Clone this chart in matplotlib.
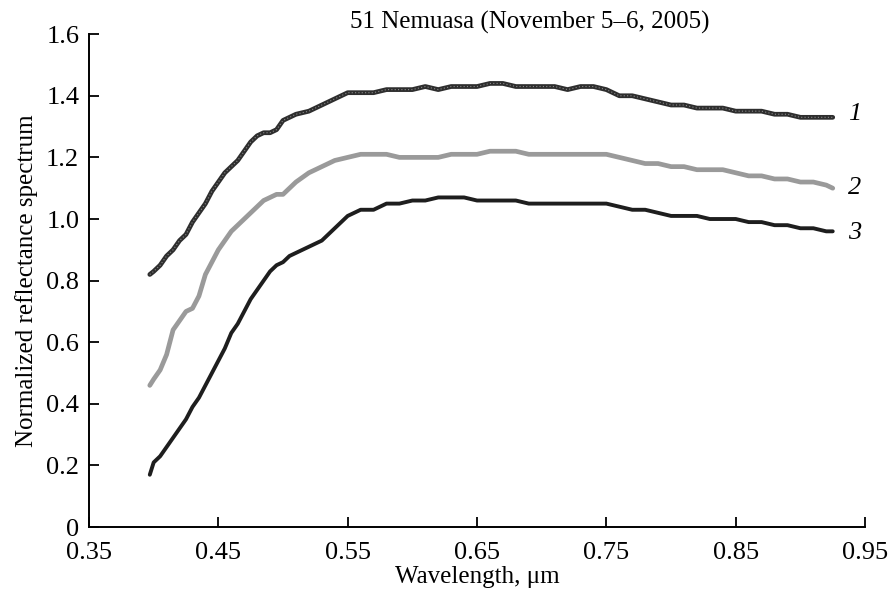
"""
Normalized reflectance spectra of 51 Nemausa, November 5-6, 2005.
"""

import matplotlib
matplotlib.use("Agg")
import matplotlib.pyplot as plt

# Wavelength grid (um) and the three spectra
wl = [0.397, 0.40, 0.405, 0.41, 0.415, 0.42, 0.425, 0.43, 0.435, 0.44, 0.445,
      0.45, 0.455, 0.46, 0.465, 0.47, 0.475, 0.48, 0.485, 0.49, 0.495, 0.50,
      0.505, 0.51, 0.52, 0.53, 0.54, 0.55, 0.56, 0.57, 0.58, 0.59, 0.60, 0.61,
      0.62, 0.63, 0.64, 0.65, 0.66, 0.67, 0.68, 0.69, 0.70, 0.71, 0.72, 0.73,
      0.74, 0.75, 0.76, 0.77, 0.78, 0.79, 0.80, 0.81, 0.82, 0.83, 0.84, 0.85,
      0.86, 0.87, 0.88, 0.89, 0.90, 0.91, 0.92, 0.925]

spec1 = [0.82, 0.83, 0.85, 0.88, 0.90, 0.93, 0.95, 0.99, 1.02, 1.05, 1.09,
         1.12, 1.15, 1.17, 1.19, 1.22, 1.25, 1.27, 1.28, 1.28, 1.29, 1.32,
         1.33, 1.34, 1.35, 1.37, 1.39, 1.41, 1.41, 1.41, 1.42, 1.42, 1.42, 1.43,
         1.42, 1.43, 1.43, 1.43, 1.44, 1.44, 1.43, 1.43, 1.43, 1.43, 1.42, 1.43,
         1.43, 1.42, 1.40, 1.40, 1.39, 1.38, 1.37, 1.37, 1.36, 1.36, 1.36, 1.35,
         1.35, 1.35, 1.34, 1.34, 1.33, 1.33, 1.33, 1.33]

spec2 = [0.46, 0.48, 0.51, 0.56, 0.64, 0.67, 0.70, 0.71, 0.75, 0.82, 0.86,
         0.90, 0.93, 0.96, 0.98, 1.00, 1.02, 1.04, 1.06, 1.07, 1.08, 1.08,
         1.10, 1.12, 1.15, 1.17, 1.19, 1.20, 1.21, 1.21, 1.21, 1.20, 1.20, 1.20,
         1.20, 1.21, 1.21, 1.21, 1.22, 1.22, 1.22, 1.21, 1.21, 1.21, 1.21, 1.21,
         1.21, 1.21, 1.20, 1.19, 1.18, 1.18, 1.17, 1.17, 1.16, 1.16, 1.16, 1.15,
         1.14, 1.14, 1.13, 1.13, 1.12, 1.12, 1.11, 1.10]

spec3 = [0.17, 0.21, 0.23, 0.26, 0.29, 0.32, 0.35, 0.39, 0.42, 0.46, 0.50,
         0.54, 0.58, 0.63, 0.66, 0.70, 0.74, 0.77, 0.80, 0.83, 0.85, 0.86,
         0.88, 0.89, 0.91, 0.93, 0.97, 1.01, 1.03, 1.03, 1.05, 1.05, 1.06, 1.06,
         1.07, 1.07, 1.07, 1.06, 1.06, 1.06, 1.06, 1.05, 1.05, 1.05, 1.05, 1.05,
         1.05, 1.05, 1.04, 1.03, 1.03, 1.02, 1.01, 1.01, 1.01, 1.00, 1.00, 1.00,
         0.99, 0.99, 0.98, 0.98, 0.97, 0.97, 0.96, 0.96]

curve_labels = ["1", "2", "3"]
x_ticks = [0.35, 0.45, 0.55, 0.65, 0.75, 0.85, 0.95]
y_ticks = [0, 0.2, 0.4, 0.6, 0.8, 1.0, 1.2, 1.4, 1.6]
y_ticklabels = ["0", "0.2", "0.4", "0.6", "0.8", "1.0", "1.2", "1.4", "1.6"]

plt.rcParams["font.family"] = ["Liberation Serif", "DejaVu Serif"]

fig = plt.figure(figsize=(8.9, 5.99), dpi=100)
ax = fig.add_axes([0.100, 0.120, 0.872, 0.823])

ax.plot(wl, spec1, color="#2e2e2e", lw=3.4, solid_capstyle="round")
ax.plot(wl, spec1, color="#8a8a8a", lw=0.8, ls=(0, (1, 2)))
ax.plot(wl, spec2, color="#9a9a9a", lw=3.4, solid_capstyle="round")
ax.plot(wl, spec3, color="#1e1e1e", lw=2.8, solid_capstyle="round")

for lab, spec, dy in zip(curve_labels, [spec1, spec2, spec3], [0.01, 0.0, -0.005]):
    ax.text(wl[-1] + 0.012, spec[-1] + dy, lab, fontsize=19, style="italic",
            va="center", ha="left")

ax.set_xlim(0.35, 0.95)
ax.set_ylim(0, 1.6)
ax.set_xticks(x_ticks)
ax.set_xticklabels([f"{t:.2f}" for t in x_ticks])
ax.set_yticks(y_ticks)
ax.set_yticklabels(y_ticklabels)
ax.tick_params(direction="in", length=7, width=1.3, labelsize=19)
ax.tick_params(axis="y", pad=7)
ax.tick_params(axis="x", pad=11)
for side in ("top", "right"):
    ax.spines[side].set_visible(False)
for side in ("left", "bottom"):
    ax.spines[side].set_linewidth(1.4)

ax.set_xlabel("Wavelength, μm", fontsize=18, labelpad=1)
ax.set_ylabel("Normalized reflectance spectrum", fontsize=18, labelpad=6)
ax.set_title("51 Nemuasa (November 5–6, 2005)", fontsize=18, x=0.568, pad=4)

fig.savefig("out.png", dpi=100, facecolor="white")
